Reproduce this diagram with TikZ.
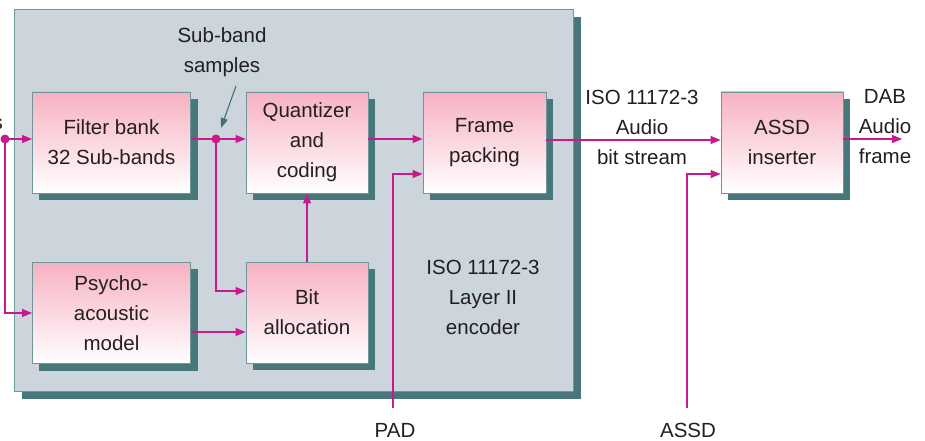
\documentclass[tikz,border=0pt]{standalone}
\usepackage{fontspec}
\setmainfont{Liberation Sans}
\usetikzlibrary{arrows.meta,calc}
\definecolor{encgray}{HTML}{CBD5DB}
\definecolor{shadowteal}{HTML}{48777B}
\definecolor{edgeteal}{HTML}{6F979A}
\definecolor{boxpink}{HTML}{F7B1C2}
\definecolor{sigmag}{HTML}{C81A8C}
\definecolor{txt}{HTML}{231F20}
\definecolor{noteteal}{HTML}{3F7276}
\pgfdeclarelayer{enclosure}
\pgfdeclarelayer{shadow}
\pgfsetlayers{enclosure,shadow,main}
\tikzset{
  blk/.style={draw=edgeteal, line width=0.9pt, top color=boxpink, bottom color=white,
    align=center, text=txt, inner sep=0pt, minimum height=101pt},
  lbl/.style={align=center, text=txt, inner sep=0pt},
  sig/.style={draw=sigmag, line width=1.2pt},
  arr/.style={sig, -{Triangle[length=10pt,width=8pt]}},
  dot/.style={fill=sigmag},
}
\begin{document}
\begin{tikzpicture}[x=1pt, y=-1pt, font=\fontsize{20.5}{30}\selectfont]
\useasboundingbox (0,0) rectangle (925,441);

% encoder enclosure
\begin{pgfonlayer}{enclosure}
\fill[shadowteal] (22,17) rectangle (581,399);
\draw[fill=encgray, draw=edgeteal, line width=0.9pt] (14,9) rectangle (573,391);
\end{pgfonlayer}

% blocks
\node[blk, minimum width=158pt] (fb) at (111.5,142.5) {Filter bank\\32 Sub-bands};
\node[blk, minimum width=158pt] (pa) at (111.5,313) {Psycho-\\acoustic\\model};
\node[blk, minimum width=122pt] (qc) at (307,142.5) {Quantizer\\and\\coding};
\node[blk, minimum width=122pt] (ba) at (307,312.5) {Bit\\allocation};
\node[blk, minimum width=123pt] (fp) at (484.5,142.5) {Frame\\packing};
\node[blk, minimum width=122pt] (ai) at (782,142.5) {ASSD\\inserter};

% drop shadows of the blocks
\begin{pgfonlayer}{shadow}
\foreach \b in {fb,pa,qc,ba,fp,ai}
  \fill[shadowteal] ($(\b.south west)+(7,7)$) rectangle ($(\b.north east)+(7,7)$);
\end{pgfonlayer}

% labels
\node[lbl, anchor=east] (insrc) at (3,124) {s};
\node[lbl] (sbs) at (222,52) {Sub-band\\samples};
\node[lbl] (isoa) at (642,127) {ISO 11172-3\\Audio\\bit stream};
\node[lbl] (dab) at (885,127) {DAB\\Audio\\frame};
\node[lbl] (enclbl) at (483,297) {ISO 11172-3\\Layer II\\encoder};
\node[lbl] (pad) at (395,430) {PAD};
\node[lbl] (assd) at (688,430) {ASSD};

% junction points and free ends
\coordinate (in) at (5,139);
\coordinate (sp) at (216,139);
\coordinate (padend) at (393,408);
\coordinate (assdend) at (687,408);
\coordinate (out) at (902,139);
\coordinate (sbtail) at (236,86);
\coordinate (sbhead) at (221,128);

% signal paths
\draw[arr] (in) -- (in -| fb.west);
\draw[arr] (in) |- (pa.west);
\draw[sig] (fb.east |- sp) -- (sp);
\draw[arr] (sp) -- (sp -| qc.west);
\draw[arr] (sp) |- ($(ba.west)+(0,-21.5)$);
\draw[arr] ($(pa.east)+(0,19)$) -- ($(ba.west)+(0,19.5)$);
\draw[arr] (ba.north) -- (qc.south);
\draw[arr] ($(qc.east)+(0,-3.5)$) -- ($(fp.west)+(0,-3.5)$);
\draw[arr] (padend) |- ($(fp.west)+(0,31.5)$);
\draw[arr] ($(fp.east)+(0,-2.5)$) -- ($(ai.west)+(0,-2.5)$);
\draw[arr] (assdend) |- ($(ai.west)+(0,31.5)$);
\draw[arr] ($(ai.east)+(0,-3.5)$) -- (out);

% pointer to sub-band samples
\draw[noteteal, line width=1.1pt, -{Triangle[length=10pt,width=7pt]}] (sbtail) -- (sbhead);

% junction dots
\fill[dot] (in) circle (4.5pt);
\fill[dot] (sp) circle (4.5pt);
\end{tikzpicture}
\end{document}
